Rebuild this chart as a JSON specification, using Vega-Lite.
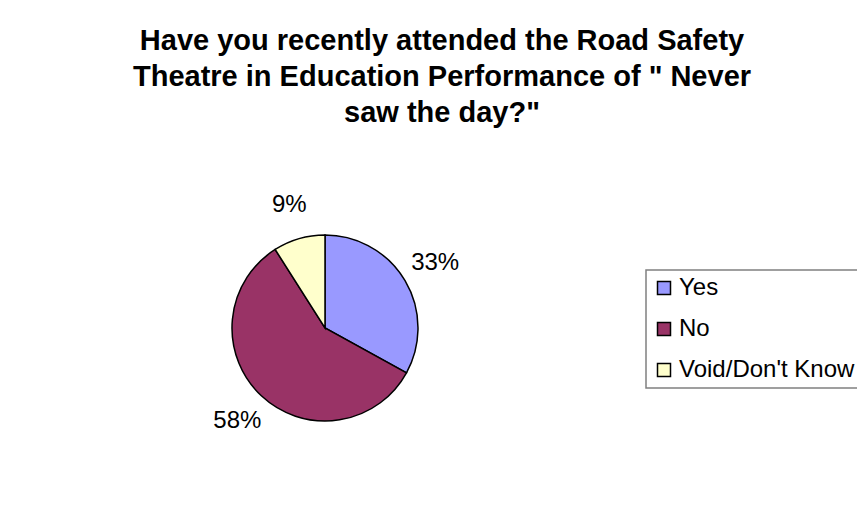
{
  "$schema": "https://vega.github.io/schema/vega-lite/v6.json",
  "autosize": {"type": "none"},
  "width": 200,
  "height": 200,
  "padding": {"left": 225, "top": 228, "right": 432, "bottom": 82},
  "background": "white",
  "title": {
    "text": ["Have you recently attended the Road Safety", "Theatre in Education Performance of \" Never", "saw the day?\""],
    "font": "Liberation Sans",
    "fontSize": 29,
    "fontWeight": "bold",
    "color": "black",
    "lineHeight": 36,
    "anchor": "middle",
    "dx": 117,
    "offset": 65
  },
  "data": {
    "values": [
      {"response": "Yes", "share": 0.33},
      {"response": "No", "share": 0.58},
      {"response": "Void/Don't Know", "share": 0.09}
    ]
  },
  "encoding": {
    "theta": {"field": "share", "type": "quantitative", "stack": true, "scale": {"range": [2.0735, 8.3567]}},
    "order": {"field": "response", "sort": "ascending"}
  },
  "layer": [
    {
      "mark": {"type": "arc", "outerRadius": 93, "stroke": "black", "strokeWidth": 1.5},
      "encoding": {
        "color": {
          "field": "response",
          "type": "nominal",
          "sort": ["Yes", "No", "Void/Don't Know"],
          "scale": {"domain": ["Yes", "No", "Void/Don't Know"], "range": ["#9999FF", "#993366", "#FFFFCC"]},
          "legend": {
            "title": null,
            "orient": "none",
            "legendX": 421,
            "legendY": 42,
            "strokeColor": "#808080",
            "fillColor": "white",
            "padding": 6,
            "symbolType": "square",
            "symbolSize": 169,
            "symbolStrokeColor": "black",
            "symbolStrokeWidth": 1.5,
            "symbolOpacity": 1,
            "labelFont": "Liberation Sans",
            "labelFontSize": 24,
            "labelColor": "black",
            "labelOffset": 3,
            "labelLimit": 400,
            "rowPadding": 17,
            "encode": {"legend": {"update": {"strokeWidth": {"value": 1.5}}}}
          }
        }
      }
    },
    {
      "mark": {"type": "text", "radius": 128, "font": "Liberation Sans", "fontSize": 24, "color": "black", "align": "center", "baseline": "middle"},
      "encoding": {
        "detail": {"field": "response", "type": "nominal"},
        "text": {"field": "share", "type": "quantitative", "format": ".0%"}
      }
    }
  ],
  "config": {"view": {"stroke": null}}
}
